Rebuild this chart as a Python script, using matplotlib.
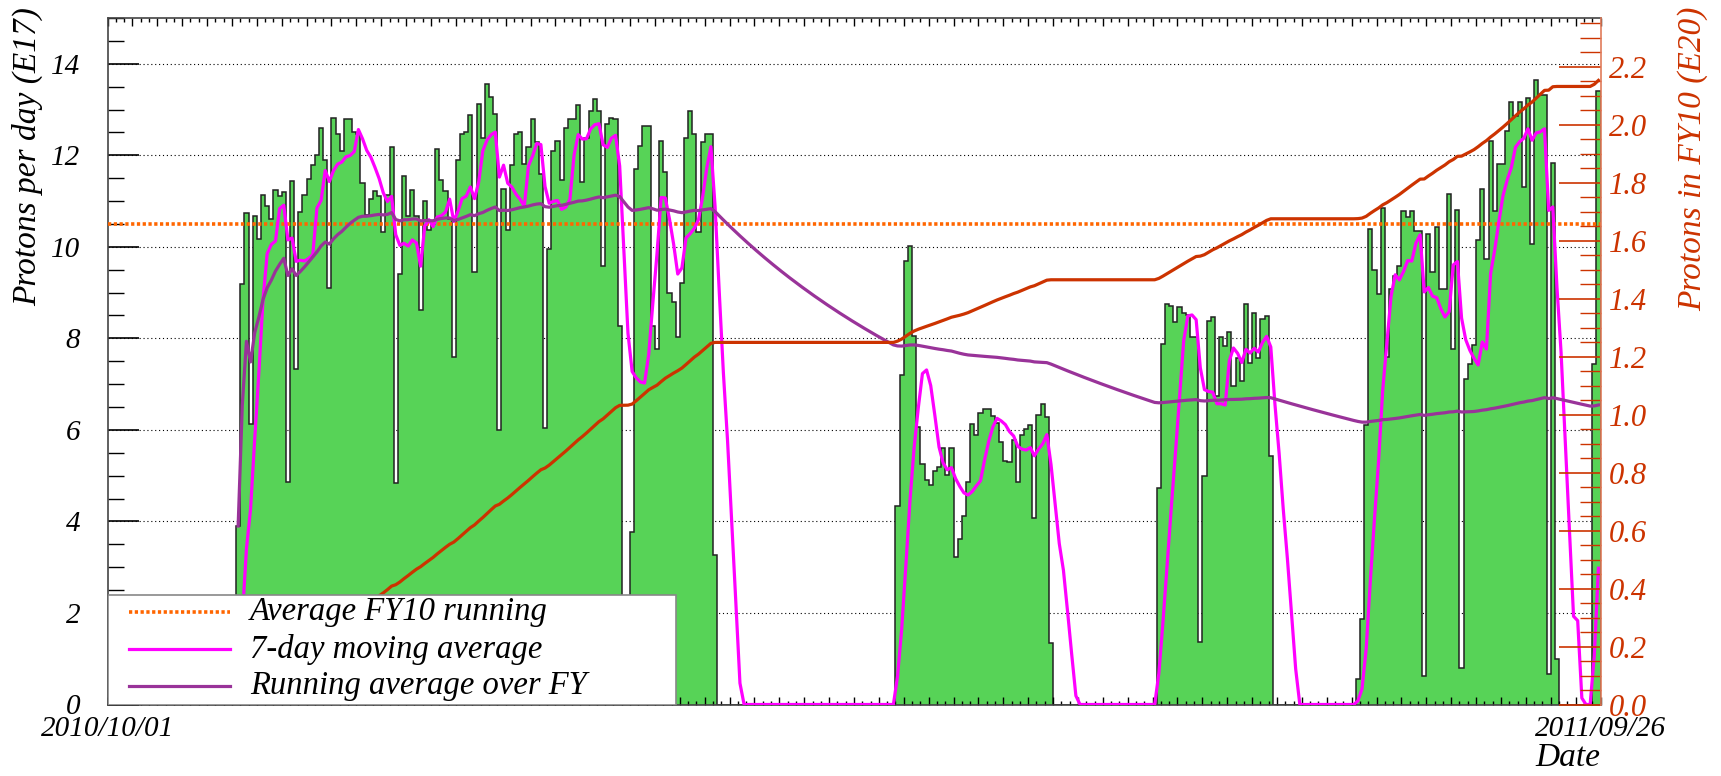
import numpy as np
import pandas as pd
import matplotlib
matplotlib.use('Agg')
import matplotlib.pyplot as plt
from matplotlib.ticker import MultipleLocator, FixedLocator, FixedFormatter, FormatStrFormatter
from matplotlib.patches import Rectangle
from matplotlib.lines import Line2D

# Days counted from 2010/10/01, protons per day in units of E17
n_days = 360
date_labels = ['2010/10/01', '2011/09/26']
fy10_average = 10.5

run1_start = 31
run1 = [3.9, 9.18, 10.73, 6.13, 10.68, 10.18, 11.14, 10.9, 10.6, 11.25, 11.1, 11.2, 4.87, 11.43, 7.33,
        10.77, 11.14, 11.48, 11.78, 12.0, 12.6, 11.9, 9.09, 12.82, 12.46, 12.1, 12.8, 12.8, 12.5, 12.46,
        11.4, 10.7, 11.05, 11.23, 11.1, 10.32, 11.14, 12.18, 4.85, 9.4, 11.55, 10.68, 11.25, 10.68, 8.63,
        11.0, 10.36, 10.5, 12.14, 11.46, 11.23, 10.6, 7.6, 11.9, 12.46, 12.5, 12.87, 9.45, 13.12, 12.37,
        13.55, 13.28, 12.91, 5.99, 11.27, 10.36, 11.78, 12.46, 12.5, 11.82, 12.18, 12.8, 12.28, 11.6, 6.04,
        9.95, 12.1, 12.32, 11.45, 12.6, 12.8, 12.8, 13.1, 11.41, 12.37, 12.96, 13.23, 12.96, 9.59, 12.69,
        12.82, 12.8, 8.27, 0.4, 0.2, 3.76, 11.7, 12.2, 12.64, 12.64, 8.27, 7.77, 12.32, 11.64, 9.0,
        8.8, 8.04, 9.2, 12.37, 12.96, 12.46, 10.32, 12.28, 12.46, 12.46, 3.26]

run2_start = 190
run2 = [4.34, 7.2, 9.68, 10.01, 8.06, 6.06, 5.26, 4.9, 4.8, 5.11, 5.2, 5.6, 5.02, 5.6, 3.22, 3.61,
        4.12, 4.87, 6.13, 5.89, 6.38, 6.45, 6.45, 6.31, 6.16, 5.73, 5.33, 5.3, 5.78, 4.87, 5.89, 6.02,
        6.11, 4.07, 6.33, 6.57, 6.29, 1.34]

run3_start = 253
run3 = [4.72, 7.88, 8.75, 8.71, 8.35, 8.68, 8.56, 8.5, 8.03, 8.03, 1.37, 4.99, 8.39, 8.46, 6.73,
        8.03, 7.84, 8.13, 6.95, 7.57, 7.06, 8.75, 7.47, 8.55, 7.57, 8.42, 8.49, 5.43]

run4_start = 301
run4 = [0.55, 1.86, 6.1, 10.38, 9.5, 8.97, 10.85, 7.59, 9.08, 9.36, 9.59, 10.78, 10.65, 10.78, 10.34,
        10.34, 0.62, 10.27, 9.45, 10.43, 9.08, 9.08, 11.15, 7.77, 10.8, 0.8, 7.12, 7.45, 7.85, 10.15,
        11.27, 9.73, 12.32, 10.78, 11.8, 11.8, 12.53, 13.16, 12.85, 13.16, 11.3, 13.25, 10.06, 13.65,
        13.32, 13.32, 0.67, 11.83, 0.99]

run5_start = 358
run5 = [7.45, 13.4]

legend_labels = ['Average FY10 running', '7-day moving average', 'Running average over FY']

green = '#57d357'
magenta = '#ff00ff'
purple = '#993399'
red = '#cc3300'
orange = '#ff6600'

daily = np.zeros(n_days)
for start, vals in [(run1_start, run1), (run2_start, run2), (run3_start, run3),
                    (run4_start, run4), (run5_start, run5)]:
    daily[start:start + len(vals)] = vals

days = np.arange(n_days)
centers = days + 0.5
total = np.cumsum(daily)
cumulative = total / 1000.0          # E17 -> E20
moving7 = pd.Series(daily).rolling(7, min_periods=1).mean().values
running = np.full(n_days, np.nan)
running[run1_start:] = total[run1_start:] / (days[run1_start:] - run1_start + 1)

plt.rcParams['font.family'] = ['Liberation Serif', 'DejaVu Serif']
plt.rcParams['font.style'] = 'italic'
plt.rcParams['font.size'] = 20

fig = plt.figure(figsize=(17.21, 7.76), dpi=100)
ax = fig.add_axes([107.5 / 1721, 1 - 704.5 / 776, 1493 / 1721, 686.5 / 776])

# grid under the histogram
for y in np.arange(2, 15, 2):
    ax.axhline(y, color='black', lw=0.8, ls=(0, (1, 2.5)), zorder=0.5)

edges = np.arange(n_days + 1)
ax.stairs(daily, edges, fill=True, color=green, zorder=1)
ax.stairs(daily, edges, color='#222222', lw=1.1, zorder=1.5)

ax.axhline(fy10_average, color=orange, lw=2.6, ls=(0, (0.9, 0.7)), zorder=3)
ax.plot(centers, moving7, color=magenta, lw=2.3, zorder=4)
ax.plot(centers, running, color=purple, lw=2.3, zorder=4)

ax.set_xlim(0, n_days)
ax.set_ylim(0, 15)

major_x = np.arange(0, n_days + 1, 6)
xlabels = [''] * len(major_x)
xlabels[0], xlabels[-1] = date_labels
ax.xaxis.set_major_locator(FixedLocator(major_x))
ax.xaxis.set_major_formatter(FixedFormatter(xlabels))
ax.xaxis.set_minor_locator(MultipleLocator(2))
ax.tick_params(axis='x', which='major', direction='in', length=6, width=1, top=True, pad=8,
               labelsize=21)
ax.tick_params(axis='x', which='minor', direction='in', length=3, width=1, top=True)

ax.yaxis.set_major_locator(MultipleLocator(2))
ax.yaxis.set_minor_locator(MultipleLocator(0.5))
ax.tick_params(axis='y', which='major', direction='in', length=22, width=1.2, pad=19.5, right=False,
               labelsize=21)
ax.tick_params(axis='y', which='minor', direction='in', length=11.5, width=1.0, right=False)

ax.set_ylabel('Protons per day (E17)', loc='top', fontsize=24)
ax.yaxis.set_label_coords(-0.0432, 1.016)
ax.set_xlabel('Date', loc='right', labelpad=1, fontsize=24)

for side in ['left', 'top', 'bottom']:
    ax.spines[side].set_color('#444444')
    ax.spines[side].set_linewidth(1.2)
ax.spines['right'].set_visible(False)

# cumulative protons on the right axis
ax2 = ax.twinx()
ax2.plot(centers, cumulative, color=red, lw=2.3)
ax2.set_ylim(0, 1.1 * cumulative.max())
ax2.set_xlim(0, n_days)
ax2.yaxis.set_major_locator(MultipleLocator(0.2))
ax2.yaxis.set_minor_locator(MultipleLocator(0.05))
ax2.yaxis.set_major_formatter(FormatStrFormatter('%.1f'))
ax2.tick_params(axis='y', which='major', direction='in', length=30, width=1.2, colors=red, pad=6,
                labelsize=22)
ax2.tick_params(axis='y', which='minor', direction='in', length=15, width=1.0, colors=red)
ax2.set_ylabel('Protons in FY10 (E20)', loc='top', color=red, fontsize=24)
ax2.yaxis.set_label_coords(1.0512, 1.016)
for side in ['left', 'top', 'bottom']:
    ax2.spines[side].set_visible(False)
ax2.spines['right'].set_color('#e07b5a')
ax2.spines['right'].set_linewidth(1.2)

# legend box in the lower left corner
ax2.add_patch(Rectangle((0, 0), 0.3808, 0.1595, transform=ax2.transAxes,
                        facecolor='white', edgecolor='#888888', lw=1.2, zorder=10))
rows = [0.1347, 0.0808, 0.0269]
styles = [dict(color=orange, lw=2.6, ls=(0, (0.9, 0.7))),
          dict(color=magenta, lw=2.3),
          dict(color=purple, lw=2.3)]
for yrow, label, st in zip(rows, legend_labels, styles):
    ax2.add_line(Line2D([0.0144, 0.082], [yrow, yrow], transform=ax2.transAxes, zorder=11, **st))
    ax2.text(0.0955, yrow, label, transform=ax2.transAxes, va='center', ha='left', zorder=11,
             fontsize=23.5)

fig.savefig('out.png', dpi=100)
